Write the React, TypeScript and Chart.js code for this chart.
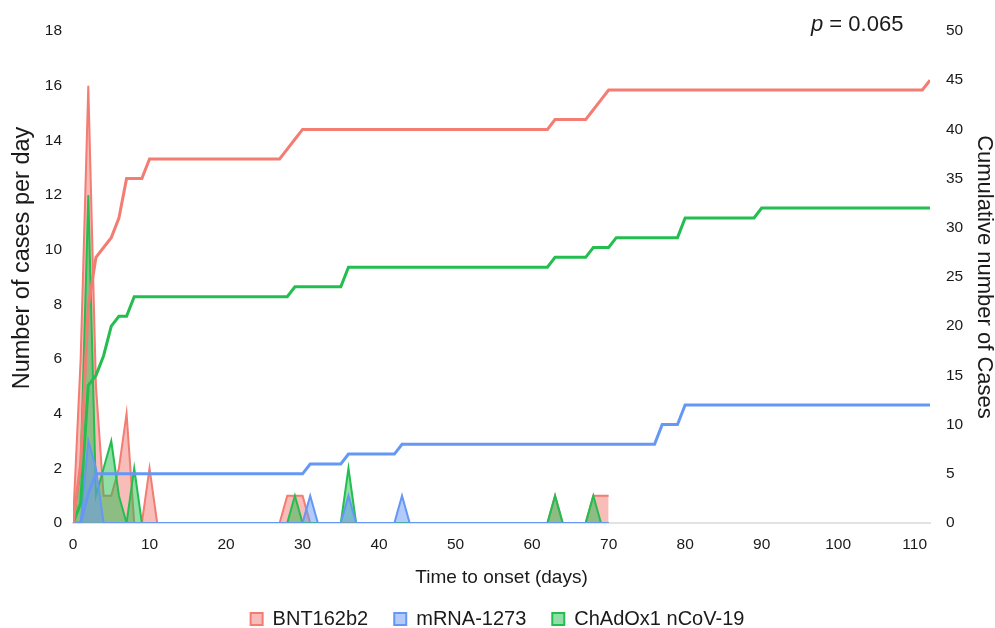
import React, { useEffect, useRef } from "react";
import { Chart, registerables } from "chart.js";

Chart.register(...registerables);

// ---- Data ----
const seriesNames = ["BNT162b2", "mRNA-1273", "ChAdOx1 nCoV-19"];

// Daily case counts, day 0 .. day 70
const bntDaily = [
  0, 6, 16, 5, 1, 1, 2, 4, 0, 0,
  2, 0, 0, 0, 0, 0, 0, 0, 0, 0,
  0, 0, 0, 0, 0, 0, 0, 0, 1, 1,
  1, 0, 0, 0, 0, 0, 0, 0, 0, 0,
  0, 0, 0, 0, 0, 0, 0, 0, 0, 0,
  0, 0, 0, 0, 0, 0, 0, 0, 0, 0,
  0, 0, 0, 1, 0, 0, 0, 0, 1, 1,
  1,
];
const mrnaDaily = [
  0, 0, 3, 2, 0, 0, 0, 0, 0, 0,
  0, 0, 0, 0, 0, 0, 0, 0, 0, 0,
  0, 0, 0, 0, 0, 0, 0, 0, 0, 0,
  0, 1, 0, 0, 0, 0, 1, 0, 0, 0,
  0, 0, 0, 1, 0, 0, 0, 0, 0, 0,
  0, 0, 0, 0, 0, 0, 0, 0, 0, 0,
  0, 0, 0, 0, 0, 0, 0, 0, 0, 0,
  0,
];
const chadoxDaily = [
  0, 2, 12, 1, 2, 3, 1, 0, 2, 0,
  0, 0, 0, 0, 0, 0, 0, 0, 0, 0,
  0, 0, 0, 0, 0, 0, 0, 0, 0, 1,
  0, 0, 0, 0, 0, 0, 2, 0, 0, 0,
  0, 0, 0, 0, 0, 0, 0, 0, 0, 0,
  0, 0, 0, 0, 0, 0, 0, 0, 0, 0,
  0, 0, 0, 1, 0, 0, 0, 0, 1, 0,
  0,
];

// Cumulative cases: days where the line changes direction, and values there
const bntCumDays = [0, 1, 2, 3, 4, 5, 6, 7, 9, 10, 27, 28, 29, 30, 62, 63, 67, 68, 69, 70, 111, 112];
const bntCumValues = [0, 6, 22, 27, 28, 29, 31, 35, 35, 37, 37, 38, 39, 40, 40, 41, 41, 42, 43, 44, 44, 45];
const mrnaCumDays = [0, 1, 2, 3, 30, 31, 35, 36, 42, 43, 76, 77, 79, 80, 112];
const mrnaCumValues = [0, 0, 3, 5, 5, 6, 6, 7, 7, 8, 8, 10, 10, 12, 12];
const chadoxCumDays = [0, 1, 2, 3, 4, 5, 6, 7, 8, 28, 29, 35, 36, 62, 63, 67, 68, 70, 71, 79, 80, 89, 90, 112];
const chadoxCumValues = [0, 2, 14, 15, 17, 20, 21, 21, 23, 23, 24, 24, 26, 26, 27, 27, 28, 28, 29, 29, 31, 31, 32, 32];

const xTicks = [0, 10, 20, 30, 40, 50, 60, 70, 80, 90, 100, 110];
const xMax = 112;
const leftMax = 18;
const leftStep = 2;
const rightMax = 50;
const rightStep = 5;

const xTitle = "Time to onset (days)";
const leftTitle = "Number of cases per day";
const rightTitle = "Cumulative number of Cases";
const pValueText = "0.065";

// ---- Styles ----
const RED = "rgb(243,124,115)";
const RED_FILL = "rgba(243,124,115,0.5)";
const BLUE = "rgb(101,152,245)";
const BLUE_FILL = "rgba(101,152,245,0.5)";
const GREEN = "rgb(36,190,80)";
const GREEN_FILL = "rgba(36,190,80,0.5)";
const FONT = "'Liberation Sans', Arial, Helvetica, sans-serif";
const TEXT = "#1a1a1a";

const toPoints = (vals: number[]) => vals.map((v, i) => ({ x: i, y: v }));
const toPairs = (days: number[], vals: number[]) => days.map((d, i) => ({ x: d, y: vals[i] }));

// Left axis title, drawn beside the left scale (placed a little above centre as in the reference)
const leftTitlePlugin = {
  id: "leftTitle",
  afterDraw(chart: any) {
    const ctx = chart.ctx;
    ctx.save();
    ctx.translate(23, 258);
    ctx.rotate(-Math.PI / 2);
    ctx.textAlign = "center";
    ctx.textBaseline = "middle";
    ctx.fillStyle = TEXT;
    ctx.font = `23.5px ${FONT}`;
    ctx.fillText(leftTitle, 0, 0);
    ctx.restore();
  },
};

export default function App() {
  const canvasRef = useRef<HTMLCanvasElement | null>(null);

  useEffect(() => {
    if (!canvasRef.current) return;
    Chart.defaults.font.family = FONT;
    const areaCommon = {
      fill: "origin",
      pointRadius: 0,
      borderWidth: 2,
      tension: 0,
      yAxisID: "y",
    };
    const lineCommon = {
      fill: false,
      pointRadius: 0,
      borderWidth: 3,
      tension: 0,
      yAxisID: "y1",
    };
    const chart = new Chart(canvasRef.current, {
      type: "line",
      data: {
        datasets: [
          { ...areaCommon, label: seriesNames[0], data: toPoints(bntDaily), borderColor: RED, backgroundColor: RED_FILL, order: 3 },
          { ...areaCommon, label: seriesNames[1], data: toPoints(mrnaDaily), borderColor: BLUE, backgroundColor: BLUE_FILL, order: 1 },
          { ...areaCommon, label: seriesNames[2], data: toPoints(chadoxDaily), borderColor: GREEN, backgroundColor: GREEN_FILL, order: 2 },
          { ...lineCommon, label: seriesNames[0] + " cumulative", data: toPairs(bntCumDays, bntCumValues), borderColor: RED, backgroundColor: RED, order: 0 },
          { ...lineCommon, label: seriesNames[1] + " cumulative", data: toPairs(mrnaCumDays, mrnaCumValues), borderColor: BLUE, backgroundColor: BLUE, order: 0 },
          { ...lineCommon, label: seriesNames[2] + " cumulative", data: toPairs(chadoxCumDays, chadoxCumValues), borderColor: GREEN, backgroundColor: GREEN, order: 0 },
        ] as any,
      },
      plugins: [leftTitlePlugin],
      options: {
        responsive: false,
        animation: false,
        devicePixelRatio: 1,
        events: [],
        layout: { padding: { top: 31, right: 0, bottom: -11, left: 0 } },
        plugins: {
          tooltip: { enabled: false },
          title: { display: false },
          legend: {
            position: "bottom",
            labels: {
              filter: (item: any) => item.datasetIndex < 3,
              sort: (a: any, b: any) => a.datasetIndex - b.datasetIndex,
              boxWidth: 12,
              boxHeight: 12,
              padding: 26,
              color: TEXT,
              font: { size: 20, family: FONT },
            },
          },
        },
        scales: {
          x: {
            type: "linear",
            min: 0,
            max: xMax,
            afterBuildTicks: (scale: any) => {
              scale.ticks = xTicks.map((v) => ({ value: v }));
            },
            afterFit: (scale: any) => {
              scale.height = 60;
            },
            grid: { display: false, drawTicks: false },
            border: { display: true, color: "#e2e2e2", width: 2 },
            ticks: { color: TEXT, padding: 12, maxRotation: 0, autoSkip: false, font: { size: 15.5, family: FONT } },
            title: {
              display: true,
              text: xTitle,
              color: TEXT,
              font: { size: 19, family: FONT },
              padding: { top: 0, bottom: -6 },
            },
          },
          y: {
            type: "linear",
            position: "left",
            min: 0,
            max: leftMax,
            afterFit: (scale: any) => {
              scale.width = 73;
            },
            grid: { display: false, drawTicks: false },
            border: { display: false },
            ticks: { stepSize: leftStep, color: TEXT, padding: 11, font: { size: 15.5, family: FONT } },
            title: { display: false, text: leftTitle },
          },
          y1: {
            type: "linear",
            position: "right",
            min: 0,
            max: rightMax,
            afterFit: (scale: any) => {
              scale.width = 65;
            },
            grid: { display: false, drawTicks: false },
            border: { display: false },
            ticks: { stepSize: rightStep, color: TEXT, padding: 16, font: { size: 15.5, family: FONT } },
            title: {
              display: true,
              text: rightTitle,
              color: TEXT,
              font: { size: 22, family: FONT, lineHeight: 1 },
              padding: { top: 0, bottom: 0 },
            },
          },
        },
      } as any,
    });
    return () => chart.destroy();
  }, []);

  return (
    <div style={{ position: "fixed", left: 0, top: 0, width: 995, height: 628, background: "#fff", overflow: "hidden" }}>
      <canvas ref={canvasRef} width={995} height={628} style={{ display: "block", width: 995, height: 628 }} />
      <div
        style={{
          position: "absolute",
          left: 811,
          top: 13,
          fontFamily: FONT,
          fontSize: 22,
          lineHeight: "22px",
          color: TEXT,
          whiteSpace: "nowrap",
        }}
      >
        <i>p</i> = {pValueText}
      </div>
    </div>
  );
}
